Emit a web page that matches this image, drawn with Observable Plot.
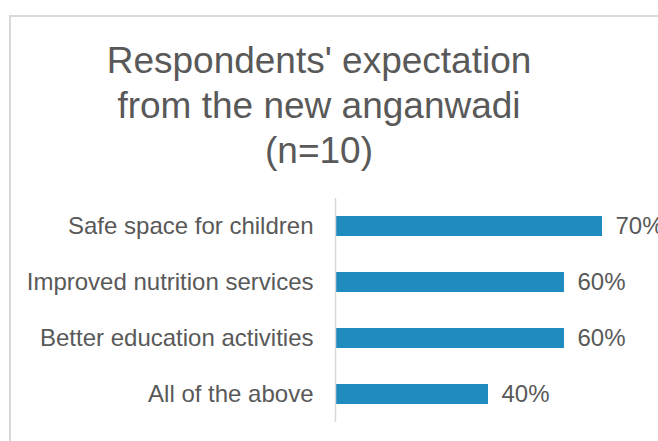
<!DOCTYPE html>
<html>
<head>
<meta charset="utf-8">
<script src="https://cdn.jsdelivr.net/npm/d3@7"></script>
<script src="https://cdn.jsdelivr.net/npm/@observablehq/plot@0.6"></script>
<style>
  html, body { margin: 0; padding: 0; background: #fff; overflow: hidden; }
  #wrap { position: relative; width: 658px; height: 441px; overflow: hidden; }
  #frame { position: absolute; left: 9px; top: 15px; width: 800px; height: 600px;
           border-left: 2px solid #d9d9d9; border-top: 2px solid #d9d9d9; box-sizing: border-box; }
  #title { position: absolute; left: 0; top: 38px; width: 638px; text-align: center;
           font-family: "Liberation Sans", Arial, sans-serif; font-size: 37px; line-height: 45px;
           color: #595959; }
  #chart { position: absolute; left: 0; top: 190px; }
</style>
</head>
<body>
<div id="wrap">
  <div id="frame"></div>
  <div id="title">Respondents' expectation<br>from the new anganwadi<br>(n=10)</div>
  <div id="chart"></div>
</div>
<script>
const categories = ["Safe space for children", "Improved nutrition services", "Better education activities", "All of the above"];
const values = [0.7, 0.6, 0.6, 0.4];
const valueLabels = ["70%", "60%", "60%", "40%"];

const data = categories.map((c, i) => ({category: c, value: values[i], label: valueLabels[i]}));

const chart = Plot.plot({
  width: 658,
  height: 251,
  marginTop: 8,
  marginBottom: 19,
  marginLeft: 336,
  marginRight: -58,
  x: {domain: [0, 1], axis: null},
  y: {domain: categories, paddingInner: 0.643, paddingOuter: 0.3215, axis: null},
  style: {fontFamily: "'Liberation Sans', Arial, sans-serif", fontSize: "24px", color: "#595959", background: "transparent", overflow: "visible"},
  marks: [
    Plot.barX(data, {x: "value", y: "category", fill: "#1f8bbe"}),
    Plot.ruleX([0], {stroke: "#d9d9d9", strokeWidth: 1.5, dx: -1}),
    Plot.axisY({tickSize: 0, tickPadding: 23, label: null, fontSize: 24, fill: "#595959"}),
    Plot.text(data, {x: "value", y: "category", text: "label", textAnchor: "start", dx: 13, fontSize: 24, fill: "#595959"})
  ]
});
document.getElementById("chart").appendChild(chart);
</script>
</body>
</html>
